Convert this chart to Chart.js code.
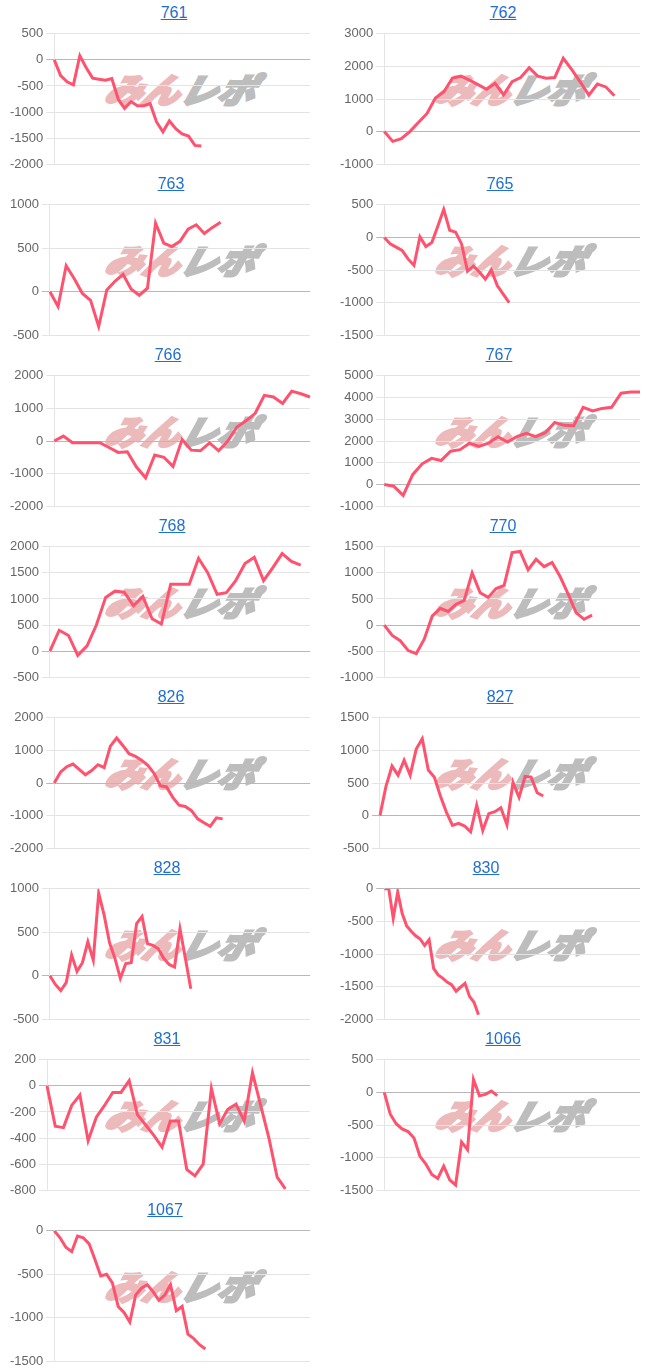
<!DOCTYPE html>
<html>
<head>
<meta charset="utf-8">
<script src="https://cdn.jsdelivr.net/npm/chart.js@4/dist/chart.umd.min.js"></script>
<style>
  body { margin: 0; background: #fff; font-family: "Liberation Sans", Arial, sans-serif; }
  #wrap { position: relative; width: 648px; height: 1370px; overflow: hidden; }
  .panel { position: absolute; width: 324px; height: 171px; }
  .ttl { position: absolute; top: 4px; font-size: 16px; color: #1f6fd1; text-decoration: underline; transform: translateX(-50%); white-space: nowrap; }
  .wm { position: absolute; top: 64px; font: italic 900 34px "Noto Sans CJK JP", sans-serif; transform: skewX(-16deg) scaleX(1.1); transform-origin: left top; white-space: nowrap; }
  .wm .a { color: #ecbaba; -webkit-text-stroke: 2.5px #ecbaba; }
  .wm .b { color: #bdbdbd; -webkit-text-stroke: 2.5px #bdbdbd; }
  canvas { position: absolute; left: 0; top: 23px; }
</style>
</head>
<body>
<div id="wrap"></div>
<script>
// 台番号
const machines = ['761', '762', '763', '765', '766', '767', '768', '770', '826', '827', '828', '830', '831', '1066', '1067'];

// 差枚推移（各台）
const s761 = [0, -300, -420, -480, 80, -150, -350, -370, -390, -360, -750, -930, -800, -880, -880, -840, -1190, -1380, -1170, -1320, -1420, -1460, -1640, -1650];
const s762 = [0, -300, -220, 0, 280, 550, 1030, 1220, 1640, 1700, 1580, 1440, 1300, 1480, 1130, 1530, 1660, 1960, 1700, 1640, 1660, 2250, 1900, 1520, 1120, 1460, 1370, 1100];
const s763 = [0, -170, 300, 150, -20, -100, -400, 20, 120, 200, 30, -40, 40, 790, 560, 520, 580, 720, 770, 670, 740, 800];
const s765 = [0, -100, -150, -200, -330, -430, 10, -140, -80, 170, 430, 110, 80, -100, -520, -440, -530, -640, -500, -740, -870, -1000];
const s766 = [0, 150, -50, -50, -50, -50, -200, -350, -330, -800, -1130, -430, -500, -780, 50, -280, -300, -60, -300, 0, 430, 620, 850, 1400, 1350, 1150, 1530, 1450, 1350];
const s767 = [0, -80, -500, 450, 950, 1200, 1100, 1530, 1600, 1900, 1750, 1900, 2200, 1950, 2200, 2350, 2200, 2380, 2850, 2720, 2700, 3550, 3380, 3500, 3550, 4200, 4250, 4250];
const s768 = [0, 400, 300, -80, 100, 500, 1030, 1150, 1130, 870, 1050, 620, 520, 1280, 1280, 1280, 1780, 1500, 1090, 1120, 1350, 1680, 1800, 1350, 1600, 1870, 1720, 1650];
const s770 = [0, -200, -300, -490, -550, -270, 170, 320, 260, 400, 470, 1000, 620, 530, 700, 760, 1390, 1410, 1060, 1260, 1120, 1200, 930, 600, 240, 110, 190];
const s826 = [0, 330, 500, 580, 420, 250, 380, 560, 470, 1130, 1380, 1150, 900, 820, 700, 540, 300, -80, -120, -440, -680, -720, -850, -1100, -1220, -1330, -1070, -1100];
const s827 = [0, 450, 760, 620, 850, 620, 1020, 1180, 700, 590, 300, 50, -150, -120, -160, -250, 160, -230, 30, 60, 120, -140, 510, 280, 600, 590, 350, 300];
const s828 = [0, -100, -170, -80, 240, 50, 150, 390, 180, 950, 700, 380, 200, -30, 140, 150, 600, 680, 370, 350, 310, 200, 130, 100, 540, 200, -150];
const s830 = [0, 0, -450, -50, -380, -570, -650, -720, -770, -870, -780, -1220, -1320, -1370, -1430, -1470, -1570, -1510, -1450, -1650, -1740, -1930];
const s831 = [0, -310, -320, -150, -70, -420, -240, -150, -50, -50, 40, -220, -300, -380, -470, -270, -270, -640, -690, -600, -20, -290, -180, -140, -270, 100, -150, -400, -700, -790];
const s1066 = [0, -330, -480, -560, -600, -700, -980, -1100, -1260, -1320, -1130, -1340, -1420, -760, -880, 200, -50, -30, 20, -50];
const s1067 = [0, -80, -190, -240, -60, -80, -150, -330, -520, -500, -600, -870, -940, -1050, -740, -660, -620, -700, -800, -740, -620, -920, -870, -1190, -1240, -1310, -1360];
const seriesList = [s761, s762, s763, s765, s766, s767, s768, s770, s826, s827, s828, s830, s831, s1066, s1067];

// 横軸の枠数（ラベル数）
const slotCounts = [41, 31, 33, 44, 29, 28, 29, 33, 42, 44, 49, 58, 33, 44, 45];

// 縦軸の範囲と目盛り
const yMins = [-2000, -1000, -500, -1500, -2000, -1000, -500, -1000, -2000, -500, -500, -2000, -800, -1500, -1500];
const yMaxs = [500, 3000, 1000, 500, 2000, 5000, 2000, 1500, 2000, 1500, 1000, 0, 200, 500, 0];
const ySteps = [500, 1000, 500, 500, 1000, 1000, 500, 500, 1000, 500, 500, 500, 200, 500, 500];

// タイトルの中心位置（列内のx）
const titleX = [174, 179, 171, 176, 168, 175, 172, 179, 171, 176, 167, 162, 167, 179, 165];

const wrap = document.getElementById('wrap');

machines.forEach((name, i) => {
  const col = i % 2;
  const row = Math.floor(i / 2);

  const panel = document.createElement('div');
  panel.className = 'panel';
  panel.style.left = (col * 324) + 'px';
  panel.style.top = (row * 171) + 'px';

  const ttl = document.createElement('a');
  ttl.className = 'ttl';
  ttl.href = '#';
  ttl.textContent = name;
  ttl.style.left = titleX[i] + 'px';
  panel.appendChild(ttl);

  // ロゴ（背景）
  const wm = document.createElement('div');
  wm.className = 'wm';
  wm.style.left = (col ? 120 : 114) + 'px';
  wm.innerHTML = '<span class="a">みん</span><span class="b">レポ</span>';
  panel.appendChild(wm);

  const canvas = document.createElement('canvas');
  canvas.width = 324;
  canvas.height = 152;
  panel.appendChild(canvas);
  wrap.appendChild(panel);

  const labels = [];
  for (let k = 1; k <= slotCounts[i]; k++) labels.push(String(k));

  new Chart(canvas.getContext('2d'), {
    type: 'line',
    data: {
      labels: labels,
      datasets: [{
        data: seriesList[i],
        borderColor: 'rgb(255, 82, 110)',
        borderWidth: 3,
        pointRadius: 0,
        tension: 0,
        fill: false
      }]
    },
    options: {
      responsive: false,
      animation: false,
      layout: { padding: { left: col ? 13 : 7, right: col ? 8 : 14 } },
      plugins: { legend: { display: false }, tooltip: { enabled: false } },
      scales: {
        x: { display: false },
        y: {
          min: yMins[i],
          max: yMaxs[i],
          ticks: {
            stepSize: ySteps[i],
            color: '#666',
            font: { size: 13, family: '"Liberation Sans", Arial, sans-serif' },
            callback: v => String(v)
          },
          grid: {
            color: ctx => (ctx.tick && ctx.tick.value === 0) ? '#b8b8b8' : '#e4e4e4',
            tickLength: 8
          },
          border: { color: '#e4e4e4' }
        }
      }
    }
  });
});
</script>
</body>
</html>
